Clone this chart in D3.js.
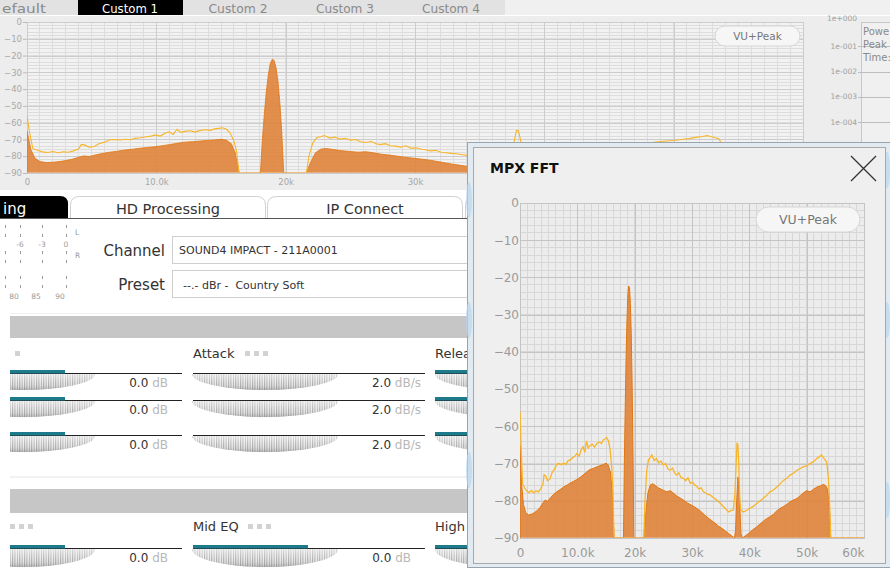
<!DOCTYPE html>
<html><head><meta charset="utf-8">
<script src="https://cdn.jsdelivr.net/npm/d3@7"></script>
<style>
html,body{margin:0;padding:0;background:#fff;overflow:hidden}
svg{display:block;font-family:"DejaVu Sans",sans-serif}
</style></head>
<body><svg id="c" width="890" height="568"></svg>
<script>
// ---------------- DATA ----------------
// average spectrum (orange area): frequency in kHz, level in dB
const avgFreqK = [0,0.3,0.6,1.0,1.5,2.0,2.5,3.0,3.5,4.0,4.4,4.8,5.3,5.8,6.4,7.0,7.6,8.2,8.7,9.3,9.9,10.5,11.0,11.6,12.2,12.8,13.4,13.9,14.5,15.0,15.4,15.8,16.1,16.4,
  18.05,18.2,18.35,18.5,18.65,18.8,18.95,19.1,19.25,19.4,19.55,19.7,19.85,
  21.6,21.9,22.3,22.7,23.1,23.6,24.2,25.0,25.6,26.2,26.8,27.4,28.0,28.5,29.2,29.8,30.4,30.8,31.5,32.2,32.8,33.4,34.0,34.6,35.2,35.8,36.4,37.0,37.4,
  37.6,37.8,38.0,38.15,38.35,38.55,38.8,39.4,40.0,40.6,41.3,41.9,42.5,43.0,43.6,44.2,44.8,45.3,45.9,46.5,47.1,47.7,48.3,48.9,49.4,50.0,50.6,51.2,51.8,52.4,52.9,53.3,53.6,53.9,54.2,60];
const avgDb = [-65,-76,-81,-83.2,-83.8,-83.6,-83.2,-82.6,-81.8,-80.6,-79.8,-80.2,-79.2,-78.4,-77.6,-77.0,-76.3,-75.8,-75.3,-74.8,-74.3,-73.7,-73.1,-72.3,-71.6,-71.3,-70.9,-70.6,-70.3,-69.9,-70.4,-72.5,-78,-90,
  -90,-70,-55,-42,-32,-25,-22.3,-22.8,-27,-35,-48,-66,-90,
  -90,-84,-78,-75.8,-75.4,-75.9,-76.6,-77.2,-77.6,-77.3,-78.0,-78.8,-79.3,-79.8,-80.6,-81.1,-81.6,-82.0,-82.8,-83.8,-84.6,-85.3,-86.0,-86.8,-87.4,-88.1,-88.8,-89.5,-90,
  -88,-80,-73.6,-74.5,-82,-89,-90,-89.3,-88.6,-87.8,-87,-86.2,-85.4,-84.8,-84.3,-83.6,-82.7,-82.1,-81.6,-81.0,-80.3,-79.8,-79.4,-78.6,-77.9,-77.3,-77.6,-76.9,-76.3,-76.0,-75.6,-75.9,-76.8,-80,-90,-90];
// peak-hold spectrum (yellow line)
const peakFreqK = [0,0.2,0.45,0.8,1.2,1.6,2.0,2.4,2.8,3.2,3.6,4.0,4.2,4.5,4.8,5.2,5.6,6.0,6.4,6.8,7.2,7.6,8.0,8.4,8.8,9.2,9.6,9.9,10.3,10.7,11.0,11.3,11.6,11.9,12.2,12.6,13.0,13.4,13.8,14.2,14.5,14.8,15.1,15.4,15.7,16.0,16.2,16.4,
  21.6,21.8,22.1,22.4,22.7,23.0,23.4,23.8,24.2,24.6,25.0,25.4,25.8,26.2,26.6,27.0,27.3,27.7,28.1,28.5,28.9,29.3,29.7,30.1,30.5,30.8,31.2,31.6,32.0,32.4,32.8,33.2,33.7,34.3,34.9,35.5,36.0,36.4,36.8,37.2,
  37.5,37.7,37.85,38.0,38.15,38.35,38.5,39.0,39.5,40.1,40.7,41.3,41.8,42.4,43.0,43.6,44.2,44.8,45.3,45.9,46.5,47.1,47.7,48.3,48.8,49.4,50.0,50.6,51.2,51.8,52.2,52.6,52.9,53.2,53.5,53.8,54.0,54.2,60];
const peakDb = [-56,-66,-75.5,-76.5,-77.4,-77.8,-77.2,-77.9,-77.3,-77.6,-76.8,-75.6,-73,-73.4,-74.6,-74.2,-72.4,-71.6,-70.2,-70.0,-70.3,-69.9,-70.2,-69.2,-69.0,-68.4,-68.0,-67.3,-68,-66.2,-65.5,-67,-63.9,-65.8,-65.2,-64.8,-65.6,-64.6,-64.2,-64.6,-63.7,-63.4,-63.0,-63.8,-66,-71,-77,-90,
  -90,-80,-72,-69,-68.4,-67.7,-69.2,-68.6,-69.8,-69.3,-70.4,-70.0,-71.4,-71.8,-71.2,-72.6,-73.1,-72.5,-73.8,-74.0,-74.6,-73.8,-75.3,-75.0,-75.8,-76.1,-76.8,-76.5,-77.6,-77.9,-78.3,-78.5,-79.1,-79.8,-80.6,-81.6,-82.4,-83.0,-82.6,-82.5,
  -78,-70,-64.6,-64.8,-70,-80,-82.5,-83.0,-82.6,-82.0,-81.5,-80.7,-80.1,-79.4,-78.6,-77.6,-77.1,-76.3,-75.6,-74.6,-74.0,-73.1,-72.6,-71.8,-71.4,-70.9,-70.6,-70.0,-69.5,-68.6,-68.2,-67.7,-68.4,-69.0,-69.6,-74,-80.7,-90,-90];

const dbTickValues = [0,-10,-20,-30,-40,-50,-60,-70,-80,-90];
const topFreqTickValues = [0,10,20,30,40,50];
const topFreqTickLabels = ["0","10.0k","20k","30k","40k","50k"];
const fftFreqTickValues = [0,10,20,30,40,50,60];
const fftFreqTickLabels = ["0","10.0k","20k","30k","40k","50k","60k"];
const logTickValues = [1,1e-1,1e-2,1e-3,1e-4];
const logTickLabels = ["1e+000","1e-001","1e-002","1e-003","1e-004"];
const statLabels = ["Powe","Peak","Time:"];
const presetTabs = ["efault","Custom 1","Custom 2","Custom 3","Custom 4"];
const mainTabs = ["ing","HD Processing","IP Connect"];
const vuTopLabels = ["-6","-3","0"];
const vuBotLabels = ["80","85","90"];
const channelName = "SOUND4 IMPACT - 211A0001";
const presetName = "--.- dBr -\u00a0 Country Soft";
const dynLabels = ["","Attack","Release"];
const eqLabels = ["","Mid EQ","High"];
const gainValues = ["0.0","0.0","0.0"];
const attackValues = ["2.0","2.0","2.0"];
const eqValues = ["0.0","0.0"];

// ---------------- DRAW ----------------
const svg = d3.select("#c");
const defs = svg.append("defs");
const TXT = "#333";

// stripe pattern for slider knobs
const pat = defs.append("pattern").attr("id","stripes").attr("patternUnits","userSpaceOnUse").attr("width",2.4).attr("height",40);
pat.append("rect").attr("width",2.4).attr("height",40).attr("fill","#ececec");
pat.append("rect").attr("width",1.1).attr("height",40).attr("fill","#9c9c9c");
const lg = defs.append("linearGradient").attr("id","combfade").attr("x1",0).attr("y1",0).attr("x2",0).attr("y2",1);
lg.append("stop").attr("offset","0%").attr("stop-color","#fff").attr("stop-opacity",0.6);
lg.append("stop").attr("offset","60%").attr("stop-color","#fff").attr("stop-opacity",0.15);
lg.append("stop").attr("offset","100%").attr("stop-color","#777").attr("stop-opacity",0.4);

svg.append("rect").attr("width",890).attr("height",568).attr("fill","#fff");

// ---- preset tab strip ----
svg.append("rect").attr("x",0).attr("y",0).attr("width",890).attr("height",15).attr("fill","#f0f0f0");
svg.append("rect").attr("x",0).attr("y",0).attr("width",505).attr("height",15).attr("fill","#e2e2e2");
const tabCenters = [18,130,238,345,451];
const tabWidths = [44,56,59,58,58];
presetTabs.forEach((t,i)=>{
  if(i===1) svg.append("rect").attr("x",78).attr("y",0).attr("width",105).attr("height",15).attr("fill","#000");
  svg.append("text").attr("x", i===0?2:tabCenters[i]-tabWidths[i]/2).attr("y",12.5)
    .attr("font-size",13).attr("textLength",tabWidths[i]).attr("lengthAdjust","spacingAndGlyphs")
    .attr("fill", i===1?"#fff":"#8a8a8a").text(t);
});

// ---- top spectrum panel ----
svg.append("rect").attr("x",0).attr("y",16).attr("width",890).attr("height",174).attr("fill","#ededed");

function drawSpectrum(g, x, y, opt){
  const [x0,x1] = x.range(), [yb,yt] = y.range();
  g.append("rect").attr("x",x0).attr("y",yt).attr("width",x1-x0).attr("height",yb-yt).attr("fill",opt.plotBg);
  // minor grid
  g.append("g").selectAll("line").data(opt.minorX).join("line")
    .attr("x1",d=>x(d)).attr("x2",d=>x(d)).attr("y1",yt).attr("y2",yb)
    .attr("stroke",opt.minor).attr("stroke-width",1).attr("shape-rendering","crispEdges");
  g.append("g").selectAll("line").data(opt.minorY).join("line")
    .attr("y1",d=>y(d)).attr("y2",d=>y(d)).attr("x1",x0).attr("x2",x1)
    .attr("stroke",opt.minor).attr("stroke-width",1).attr("shape-rendering","crispEdges");
  // major grid
  g.append("g").call(d3.axisBottom(x).tickValues(opt.majorX).tickSize(-(yb-yt)).tickFormat(""))
    .attr("transform",`translate(0,${yb})`)
    .call(s=>{s.select(".domain").remove(); s.selectAll("line").attr("stroke",opt.major).attr("shape-rendering","crispEdges");});
  g.append("g").call(d3.axisLeft(y).tickValues(dbTickValues).tickSize(-(x1-x0)).tickFormat(""))
    .attr("transform",`translate(${x0},0)`)
    .call(s=>{s.select(".domain").remove(); s.selectAll("line").attr("stroke",opt.major).attr("shape-rendering","crispEdges");});
  g.append("rect").attr("x",x0).attr("y",yt).attr("width",x1-x0).attr("height",yb-yt)
    .attr("fill","none").attr("stroke",opt.major).attr("shape-rendering","crispEdges");

  const cid = opt.id+"clip";
  defs.append("clipPath").attr("id",cid).append("rect").attr("x",x0).attr("y",yt).attr("width",x1-x0).attr("height",yb-yt-0.5);
  const avg = avgFreqK.map((f,i)=>({f,db:avgDb[i]}));
  const pk = peakFreqK.map((f,i)=>({f,db:peakDb[i]}));
  const cg = g.append("g").attr("clip-path",`url(#${cid})`);
  cg.append("path").datum(avg)
    .attr("d", d3.area().x(d=>x(d.f)).y0(y(-90)).y1(d=>y(d.db)))
    .attr("fill","#e0833a").attr("fill-opacity",0.9).attr("stroke","#e2760f").attr("stroke-width",opt.sw);
  cg.append("path").datum(pk)
    .attr("d", d3.line().x(d=>x(d.f)).y(d=>y(d.db)))
    .attr("fill","none").attr("stroke","#f7b52a").attr("stroke-width",opt.lw);

  // axes labels
  g.append("g").attr("transform",`translate(${x0},0)`)
    .call(d3.axisLeft(y).tickValues(dbTickValues).tickSize(opt.tick).tickPadding(1).tickFormat(d3.format("d")))
    .call(s=>{s.select(".domain").remove();
      s.selectAll("line").attr("stroke","#bbb");
      s.selectAll("text").attr("font-size",opt.fs).attr("fill",opt.lab).attr("font-family","DejaVu Sans");});
  const n = opt.xTicks.length;
  g.append("g").attr("transform",`translate(0,${yb})`)
    .call(d3.axisBottom(x).tickValues(opt.xTicks).tickSize(0).tickPadding(opt.xpad).tickFormat((d,i)=>opt.xLabels[i]))
    .call(s=>{s.select(".domain").remove();
      s.selectAll("text").attr("font-size",opt.fs).attr("fill",opt.lab).attr("font-family","DejaVu Sans")
        .attr("text-anchor",(d,i)=> (opt.lastEnd && i===n-1) ? "end" : "middle");});
}

function vuButton(g, x, y, w, h, fs){
  g.append("rect").attr("x",x).attr("y",y).attr("width",w).attr("height",h).attr("rx",h/2)
    .attr("fill","#f6f6f6").attr("stroke","#d6d6d6");
  g.append("text").attr("x",x+w/2).attr("y",y+h/2+fs*0.36).attr("text-anchor","middle")
    .attr("font-size",fs).attr("fill","#777").text("VU+Peak");
}

const topX = d3.scaleLinear().domain([0,60]).range([27,803]);
const topY = d3.scaleLinear().domain([-90,0]).range([173,22]);
const topG = svg.append("g");
drawSpectrum(topG, topX, topY, {
  id:"top", plotBg:"#f2f2f2", minor:"#dddddd", major:"#cccccc",
  minorX:d3.range(0,61,1), minorY:d3.range(-90,1,2), majorX:[10,20,30,40,50],
  xTicks:topFreqTickValues, xLabels:topFreqTickLabels, fs:8.5, lab:"#a8a8a8", tick:4, xpad:6, sw:0.8, lw:1.1, lastEnd:false
});
vuButton(topG, 715, 26, 85, 20, 10.5);

// log meter at the right
const logY = d3.scaleLog().domain([1,1e-4]).range([21,122]);
svg.append("rect").attr("x",861.5).attr("y",22.5).attr("width",40).attr("height",170).attr("fill","#f0f0f0").attr("stroke","#c8c8c8");
svg.append("g").selectAll("line").data(logTickValues.slice(1)).join("line")
  .attr("x1",858).attr("x2",890).attr("y1",d=>Math.round(logY(d))+0.5).attr("y2",d=>Math.round(logY(d))+0.5)
  .attr("stroke","#bdbdbd");
svg.append("g").selectAll("text").data(logTickValues).join("text")
  .attr("x",857).attr("y",d=>logY(d)+(d===1?0:2.5)).attr("text-anchor","end")
  .attr("font-size",7.5).attr("fill","#a0a0a0").text((d,i)=>logTickLabels[i]);
svg.append("g").selectAll("text").data(statLabels).join("text")
  .attr("x",863).attr("y",(d,i)=>35+i*13).attr("font-size",10).attr("fill","#8a8a8a").text(d=>d);

// ---- main tabs ----
function tabPath(x0,x1,y0,y1,r){
  return `M${x0},${y1}L${x0},${y0+r}Q${x0},${y0} ${x0+r},${y0}L${x1-r},${y0}Q${x1},${y0} ${x1},${y0+r}L${x1},${y1}`;
}
svg.append("path").attr("d",`M0,218L0,196L60,196Q68,196 68,204L68,218Z`).attr("fill","#000");
svg.append("text").attr("x",3).attr("y",214).attr("font-size",15).attr("fill","#fff").text(mainTabs[0]);
[[70,266],[267,463],[465,520]].forEach(([a,b],i)=>{
  svg.append("path").attr("d",tabPath(a+0.5,b-0.5,196.5,218,9)).attr("fill","#fff").attr("stroke","#d0d0d0");
  if(mainTabs[i+1]) svg.append("text").attr("x",(a+b)/2).attr("y",214).attr("text-anchor","middle")
    .attr("font-size",14.5).attr("fill",TXT).text(mainTabs[i+1]);
});
svg.append("line").attr("x1",0).attr("x2",470).attr("y1",218.5).attr("y2",218.5).attr("stroke","#555");

// ---- small VU scale ----
const vuX = [20,42,66];
const vg = svg.append("g").attr("stroke","#9a9a9a");
vuX.concat([5]).forEach(x=>{
  [[225,228],[234,237],[251,254],[260,263],[276,279],[285,288]].forEach(([a,b])=>{
    vg.append("line").attr("x1",x+0.5).attr("x2",x+0.5).attr("y1",a).attr("y2",b);
  });
});
vuTopLabels.forEach((t,i)=>svg.append("text").attr("x",vuX[i]).attr("y",247).attr("text-anchor","middle").attr("font-size",7.5).attr("fill","#999").text(t));
vuBotLabels.forEach((t,i)=>svg.append("text").attr("x",vuX[i]-6).attr("y",299).attr("text-anchor","middle").attr("font-size",7.5).attr("fill","#999").text(t));
svg.append("text").attr("x",75).attr("y",235).attr("font-size",7.5).attr("fill","#999").text("L");
svg.append("text").attr("x",75).attr("y",258).attr("font-size",7.5).attr("fill","#999").text("R");

// ---- channel / preset ----
svg.append("text").attr("x",165).attr("y",256).attr("text-anchor","end").attr("font-size",15).attr("fill",TXT).text("Channel");
svg.append("rect").attr("x",172.5).attr("y",236.5).attr("width",300).attr("height",27).attr("fill","#fff").attr("stroke","#cfcfcf");
svg.append("text").attr("x",179).attr("y",254).attr("font-size",11).attr("fill",TXT).text(channelName);
svg.append("text").attr("x",165).attr("y",290).attr("text-anchor","end").attr("font-size",15).attr("fill",TXT).text("Preset");
svg.append("rect").attr("x",172.5).attr("y",270.5).attr("width",300).attr("height",27).attr("fill","#fff").attr("stroke","#cfcfcf");
svg.append("text").attr("x",183).attr("y",289).attr("font-size",11).attr("fill",TXT).text(presetName);
svg.append("line").attr("x1",10).attr("x2",470).attr("y1",313.5).attr("y2",313.5).attr("stroke","#f0f0f0");

// ---- section bars ----
svg.append("rect").attr("x",10).attr("y",316).attr("width",460).attr("height",22).attr("fill","#c6c6c6");
svg.append("line").attr("x1",10).attr("x2",470).attr("y1",477).attr("y2",477).attr("stroke","#eeeeee").attr("stroke-width",1.5);
svg.append("rect").attr("x",10).attr("y",489).attr("width",460).attr("height",24).attr("fill","#c6c6c6");

function squares(x,y,n){
  for(let i=0;i<n;i++) svg.append("rect").attr("x",x+i*9).attr("y",y).attr("width",5).attr("height",5).attr("fill","#d2d2d2");
}
// labels row 1
squares(15,351,1);
svg.append("text").attr("x",193).attr("y",358).attr("font-size",13).attr("fill",TXT).text(dynLabels[1]);
squares(245,351,3);
svg.append("text").attr("x",435).attr("y",358).attr("font-size",13).attr("fill",TXT).text(dynLabels[2]);
// labels row 2
squares(10,524,3);
svg.append("text").attr("x",193).attr("y",531).attr("font-size",13).attr("fill",TXT).text(eqLabels[1]);
squares(248,524,3);
svg.append("text").attr("x",435).attr("y",531).attr("font-size",13).attr("fill",TXT).text(eqLabels[2]);

// ---- sliders ----
defs.append("clipPath").attr("id","leftclip").append("rect").attr("x",10).attr("y",0).attr("width",460).attr("height",568);
const sl = svg.append("g").attr("clip-path","url(#leftclip)");
function slider(lx0,lx1,yl,cx,rw,tealEnd,val,unit,vRight,depth){
  const p = `M${cx-rw},${yl+1}A${rw},${depth} 0 0 0 ${cx+rw},${yl+1}Z`;
  sl.append("path").attr("d",p).attr("fill","url(#stripes)");
  sl.append("path").attr("d",p).attr("fill","url(#combfade)");
  sl.append("line").attr("x1",lx0).attr("x2",lx1).attr("y1",yl+0.5).attr("y2",yl+0.5).attr("stroke","#222");
  if(tealEnd>lx0) sl.append("rect").attr("x",lx0).attr("y",yl-3).attr("width",tealEnd-lx0).attr("height",3.5).attr("fill","#1e7b8c");
  if(val!==null){
    const t = sl.append("text").attr("x",vRight).attr("y",yl+14).attr("text-anchor","end").attr("font-size",12);
    t.append("tspan").attr("fill",TXT).text(val);
    t.append("tspan").attr("fill","#b8b8b8").text(" "+unit);
  }
}
const rowsY = [373,400,435];
rowsY.forEach((yy,i)=>{
  slider(10,182,yy,23,72,65,gainValues[i],"dB",168,16);
  slider(193,425,yy,265,73,193,attackValues[i],"dB/s",421,16);
  slider(435,520,yy,508,73,520,null,"",0,16);
});
slider(10,182,548,23,72,65,eqValues[0],"dB",168,18);
slider(193,425,548,265,73,308,eqValues[1],"dB",411,18);
slider(435,520,548,508,73,520,null,"",0,18);

// ---- MPX FFT dialog ----
const dlg = svg.append("g");
dlg.append("rect").attr("x",467).attr("y",142).attr("width",423).attr("height",426).attr("fill","#e3ebf2");
dlg.append("rect").attr("x",467.5).attr("y",142.5).attr("width",430).attr("height",425).attr("fill","none").attr("stroke","#9aa4ae");
// soft bluish glow spots on the window frame
[[469,320],[469,470],[887,320],[887,500],[469,200],[887,170]].forEach(([x,y])=>{
  dlg.append("ellipse").attr("cx",x).attr("cy",y).attr("rx",3).attr("ry",18).attr("fill","#b9d6ee").attr("opacity",0.7);
});
dlg.append("rect").attr("x",473.5).attr("y",147.5).attr("width",412).attr("height",416).attr("fill","#efefef").attr("stroke","#a9a9a9");
dlg.append("text").attr("x",490).attr("y",173).attr("font-size",14).attr("font-weight","bold").attr("fill","#111").text("MPX FFT");
dlg.append("path").attr("d","M851,156L876,181M876,156L851,181").attr("stroke","#333").attr("stroke-width",1.3);

const fftX = d3.scaleLinear().domain([0,60]).range([520,864]);
const fftY = d3.scaleLinear().domain([-90,0]).range([538,203]);
drawSpectrum(dlg.append("g"), fftX, fftY, {
  id:"fft", plotBg:"#ececec", minor:"#d7d7d7", major:"#c4c4c4",
  minorX:d3.range(0,60.01,1.25), minorY:d3.range(-90,1,2), majorX:[10,20,30,40,50],
  xTicks:fftFreqTickValues, xLabels:fftFreqTickLabels, fs:12, lab:"#9a9a9a", tick:0, xpad:10, sw:1, lw:1.3, lastEnd:true
});
vuButton(dlg, 756, 207, 104, 25, 12.5);
</script></body></html>
